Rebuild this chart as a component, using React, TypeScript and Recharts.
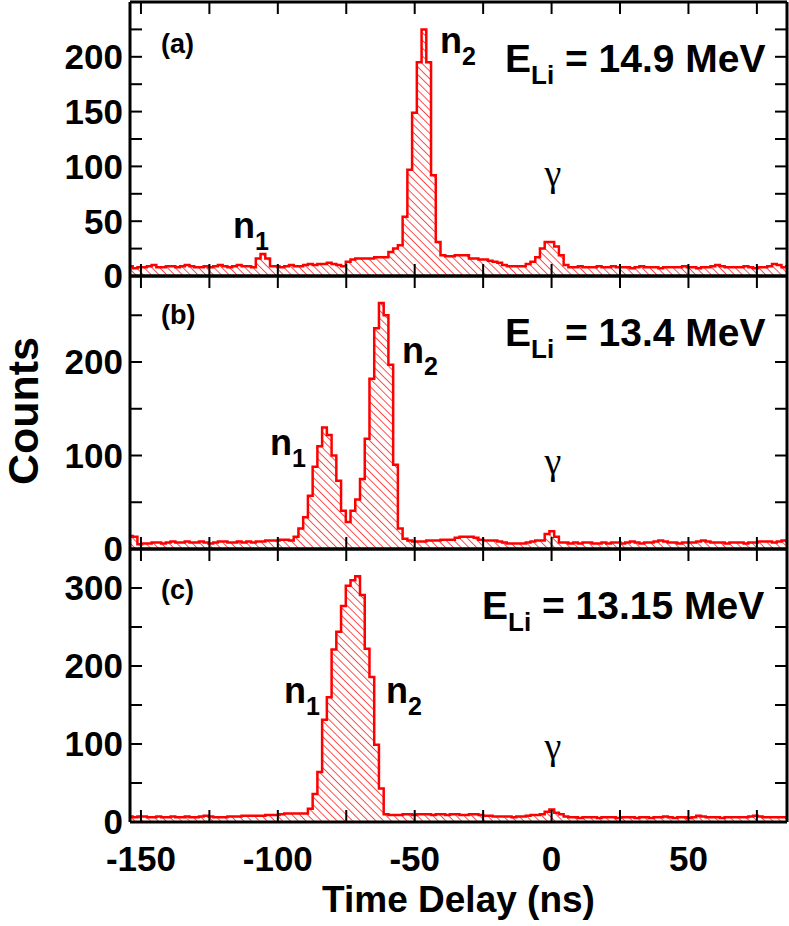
import { AreaChart, Area, XAxis, YAxis } from 'recharts';

const FONT = '"Liberation Sans", Arial, Helvetica, sans-serif';

// histogram bins (ns)
const BIN_START = -154.75;
const BIN_WIDTH = 1.73;
const X_DOMAIN = [-154, 86];
const X_TICKS = [-150, -125, -100, -75, -50, -25, 0, 25, 50, 75];

// (a) E_Li = 14.9 MeV
const COUNTS_A = [
  9, 7, 8, 8, 9, 10, 8, 8, 9, 9,
  8, 9, 10, 9, 8, 8, 9, 8, 9, 10,
  9, 8, 9, 10, 9, 9, 8, 16, 20, 16,
  9, 9, 8, 9, 10, 9, 9, 10, 11, 10,
  11, 11, 12, 11, 10, 9, 13, 15, 16, 16,
  16, 16, 17, 17, 17, 22, 25, 28, 54, 97,
  149, 195, 225, 195, 92, 31, 19, 18, 18, 19,
  19, 19, 16, 16, 15, 15, 14, 13, 12, 10,
  9, 9, 9, 9, 11, 13, 17, 25, 31, 31,
  27, 19, 10, 8, 8, 9, 8, 8, 8, 9,
  8, 8, 9, 8, 8, 8, 7, 8, 9, 8,
  8, 8, 7, 8, 8, 8, 8, 9, 8, 8,
  7, 8, 8, 9, 10, 9, 8, 8, 8, 8,
  9, 8, 7, 8, 8, 9, 11, 10, 8, 9,
];

// (b) E_Li = 13.4 MeV
const COUNTS_B = [
  14, 13, 5, 6, 6, 7, 7, 6, 7, 8,
  7, 7, 8, 7, 7, 8, 7, 6, 7, 8,
  8, 7, 7, 8, 7, 8, 7, 8, 8, 9,
  9, 9, 10, 10, 9, 13, 22, 34, 57, 88,
  110, 130, 122, 100, 73, 41, 29, 41, 53, 75,
  118, 182, 236, 263, 250, 197, 90, 22, 11, 9,
  8, 8, 8, 9, 9, 9, 10, 10, 10, 12,
  13, 13, 13, 12, 10, 9, 9, 9, 8, 7,
  6, 6, 6, 6, 7, 8, 9, 9, 16, 19,
  13, 7, 7, 6, 7, 6, 7, 7, 6, 6,
  7, 6, 7, 7, 6, 7, 8, 7, 6, 7,
  7, 8, 9, 8, 7, 7, 6, 7, 7, 7,
  8, 9, 8, 7, 7, 7, 6, 7, 7, 7,
  6, 7, 7, 8, 8, 8, 7, 8, 9, 8,
];

// (c) E_Li = 13.15 MeV
const COUNTS_C = [
  7, 6, 7, 7, 6, 6, 7, 6, 6, 7,
  6, 6, 7, 6, 6, 7, 8, 7, 6, 6,
  6, 7, 7, 7, 8, 8, 8, 8, 8, 9,
  9, 9, 10, 11, 11, 11, 11, 11, 17, 36,
  64, 131, 160, 221, 244, 277, 303, 310, 315, 291,
  222, 186, 99, 43, 10, 9, 9, 9, 10, 10,
  9, 10, 10, 10, 9, 10, 10, 9, 10, 10,
  9, 9, 10, 10, 9, 8, 8, 7, 7, 7,
  7, 6, 7, 7, 8, 9, 9, 10, 13, 16,
  12, 10, 7, 6, 6, 5, 6, 6, 6, 5,
  6, 6, 6, 5, 6, 6, 6, 5, 6, 6,
  5, 6, 6, 7, 6, 5, 6, 6, 5, 6,
  8, 7, 6, 6, 6, 5, 6, 6, 6, 6,
  6, 7, 8, 7, 6, 6, 6, 6, 6, 6,
];

const Y_TICKS_A = [0, 25, 50, 75, 100, 125, 150, 175, 200, 225];
const Y_TICKS_B = [0, 50, 100, 150, 200, 250];
const Y_TICKS_C = [0, 50, 100, 150, 200, 250, 300];

// stepAfter needs a closing point at the right edge of the last bin
const toRows = (counts: number[]) =>
  [...counts, counts[counts.length - 1]].map((c, i) => ({ t: BIN_START + i * BIN_WIDTH, c }));

const AXIS = { stroke: '#000', strokeWidth: 3 };
const TICK = { stroke: '#000', strokeWidth: 2 };
const TICK_TEXT = { fill: '#000', fontSize: 35, fontWeight: 'bold', fontFamily: FONT };
const blank = () => '';

type PanelProps = {
  id: string;
  counts: number[];
  yMax: number;
  yTicks: number[];
  yStep: number;
  plotTop: number;
  plotBottom: number;
  last?: boolean;
};

function Panel({ id, counts, yMax, yTicks, yStep, plotTop, plotBottom, last }: PanelProps) {
  const top = plotTop - 10;
  const below = last ? 926 - plotBottom : 24;
  const height = plotBottom - top + below;
  return (
    <div style={{ position: 'absolute', left: 0, top, width: 789, height }}>
      <AreaChart
        width={789}
        height={height}
        data={toRows(counts)}
        margin={{ top: 9, right: 0, bottom: 0, left: 0 }}
        style={{ overflow: 'visible' }}
      >
        <defs>
          <pattern id={id} patternUnits="userSpaceOnUse" width={5.5} height={5.5} patternTransform="rotate(-45)">
            <line x1={0.5} y1={0} x2={0.5} y2={5.5} stroke="#ff3b3b" strokeWidth={0.9} />
          </pattern>
        </defs>
        <Area
          xAxisId="bottom"
          yAxisId="left"
          type="stepAfter"
          dataKey="c"
          stroke="#ff0000"
          strokeWidth={2.5}
          fill={`url(#${id})`}
          fillOpacity={1}
          dot={false}
          activeDot={false}
          isAnimationActive={false}
        />
        <XAxis
          xAxisId="bottom"
          dataKey="t"
          type="number"
          domain={X_DOMAIN}
          allowDataOverflow
          ticks={X_TICKS}
          interval={0}
          height={below}
          tickSize={-12}
          tickMargin={36}
          tickFormatter={last ? (v: number) => (v % 50 === 0 ? String(v) : '') : blank}
          axisLine={AXIS}
          tickLine={TICK}
          tick={TICK_TEXT}
          label={
            last
              ? { value: 'Time Delay (ns)', position: 'insideBottom', offset: 14, fill: '#000', fontSize: 37, fontWeight: 'bold', fontFamily: FONT }
              : undefined
          }
        />
        <XAxis
          xAxisId="top"
          orientation="top"
          dataKey="t"
          type="number"
          domain={X_DOMAIN}
          allowDataOverflow
          ticks={X_TICKS}
          interval={0}
          height={1}
          tickSize={-12}
          tickFormatter={blank}
          axisLine={AXIS}
          tickLine={TICK}
        />
        <YAxis
          yAxisId="left"
          type="number"
          domain={[0, yMax]}
          allowDataOverflow
          ticks={yTicks}
          interval={0}
          width={130}
          tickSize={-12}
          tickMargin={19}
          tickFormatter={(v: number) => (v % yStep === 0 ? String(v) : '')}
          axisLine={AXIS}
          tickLine={TICK}
          tick={TICK_TEXT}
        />
        <YAxis
          yAxisId="right"
          orientation="right"
          type="number"
          domain={[0, yMax]}
          allowDataOverflow
          ticks={yTicks}
          interval={0}
          width={2}
          tickSize={-12}
          tickFormatter={blank}
          axisLine={AXIS}
          tickLine={TICK}
        />
      </AreaChart>
    </div>
  );
}

function NLabel({ x, y, sub }: { x: number; y: number; sub: string }) {
  return (
    <text x={x} y={y} fontSize={36} fontWeight="bold" fontFamily={FONT}>
      n<tspan fontSize={25} dy={12}>{sub}</tspan>
    </text>
  );
}

function ELabel({ x, y, value }: { x: number; y: number; value: string }) {
  return (
    <text x={x} y={y} fontSize={39} fontWeight="bold" fontFamily={FONT}>
      E<tspan fontSize={26} dy={12}>Li</tspan>
      <tspan dy={-12}>{` = ${value} MeV`}</tspan>
    </text>
  );
}

function Gamma({ y }: { y: number }) {
  return (
    <text x={553} y={y} fontSize={38} textAnchor="middle" fontFamily='"Liberation Serif", "Times New Roman", serif'>
      γ
    </text>
  );
}

export default function App() {
  return (
    <div style={{ position: 'absolute', left: 0, top: 0, width: 789, height: 926, background: '#fff' }}>
      <Panel id="hatchA" counts={COUNTS_A} yMax={250} yTicks={Y_TICKS_A} yStep={50} plotTop={2} plotBottom={276} />
      <Panel id="hatchB" counts={COUNTS_B} yMax={292} yTicks={Y_TICKS_B} yStep={100} plotTop={276} plotBottom={549} />
      <Panel id="hatchC" counts={COUNTS_C} yMax={350} yTicks={Y_TICKS_C} yStep={100} plotTop={549} plotBottom={822} last />
      <svg width={789} height={926} style={{ position: 'absolute', left: 0, top: 0, pointerEvents: 'none' }}>
        <text x={38} y={411} transform="rotate(-90 38 411)" textAnchor="middle" fontSize={43} fontWeight="bold" fontFamily={FONT}>
          Counts
        </text>

        <text x={161} y={53} fontSize={27} fontWeight="bold" fontFamily={FONT}>(a)</text>
        <ELabel x={505} y={72} value="14.9" />
        <NLabel x={233} y={238} sub="1" />
        <NLabel x={440} y={53} sub="2" />
        <Gamma y={186} />

        <text x={161} y={324} fontSize={27} fontWeight="bold" fontFamily={FONT}>(b)</text>
        <ELabel x={505} y={346} value="13.4" />
        <NLabel x={270} y={455} sub="1" />
        <NLabel x={402} y={363} sub="2" />
        <Gamma y={474} />

        <text x={161} y={599} fontSize={27} fontWeight="bold" fontFamily={FONT}>(c)</text>
        <ELabel x={482} y={619} value="13.15" />
        <NLabel x={284} y={703} sub="1" />
        <NLabel x={386} y={703} sub="2" />
        <Gamma y={759} />
      </svg>
    </div>
  );
}
